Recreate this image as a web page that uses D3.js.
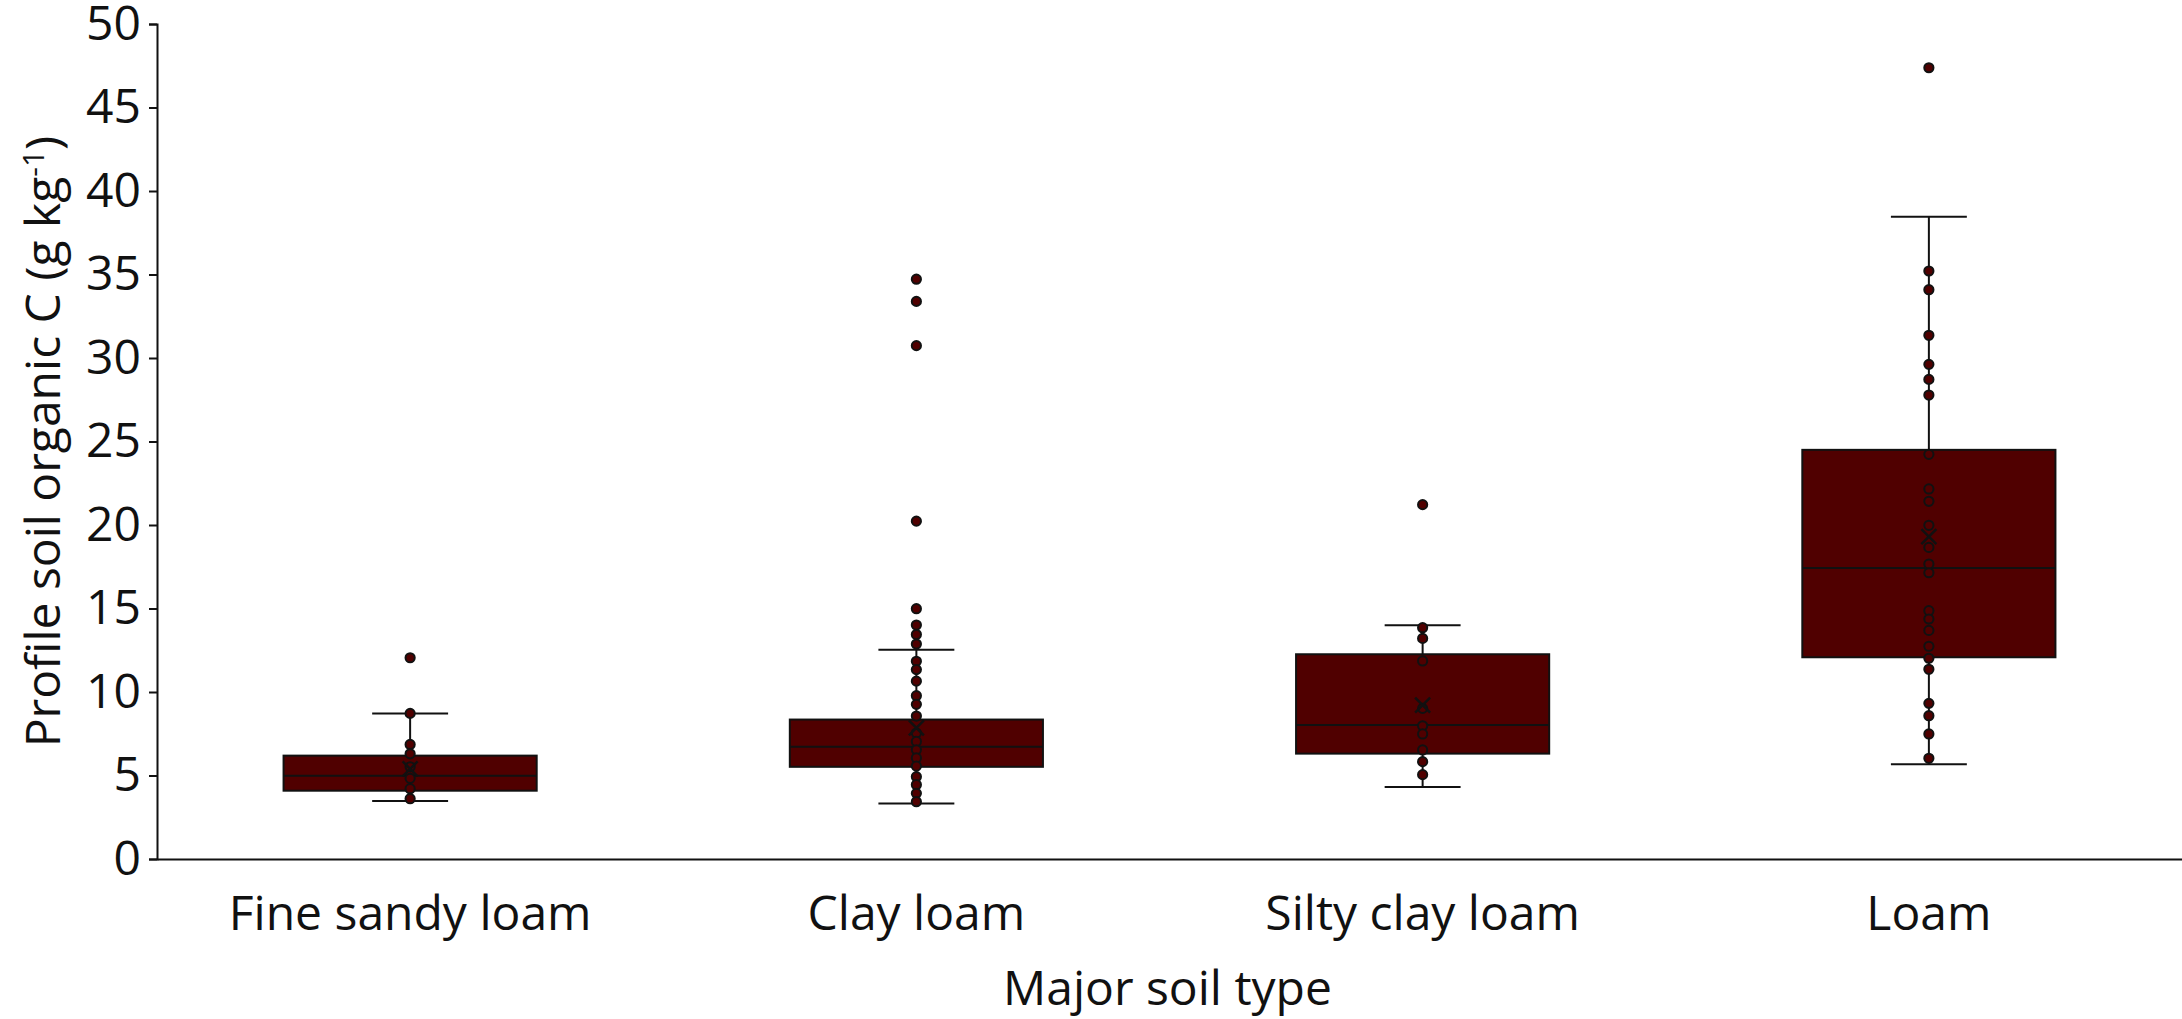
<!DOCTYPE html>
<html>
<head>
<meta charset="utf-8">
<script src="https://cdn.jsdelivr.net/npm/d3@7"></script>
<style>
  body { margin: 0; background: #fff; }
  text { font-family: 'Open Sans', sans-serif; fill: #111; }
</style>
</head>
<body>
<div class="canvas"></div>
<script>
// box plot stats
const categories = ['Fine sandy loam', 'Clay loam', 'Silty clay loam', 'Loam'];
const whiskerLow = [3.47, 3.33, 4.31, 5.67];
const q1 = [4.09, 5.52, 6.31, 12.08];
const medians = [4.98, 6.72, 8.02, 17.43];
const q3 = [6.19, 8.35, 12.26, 24.5];
const whiskerHigh = [8.72, 12.53, 13.99, 38.46];
const means = [5.4, 7.85, 9.22, 19.3];

// individual profiles
const fineSandyLoam = [12.05, 8.72, 6.86, 6.30, 5.52, 4.83, 4.21, 3.61];
const clayLoam = [34.72, 33.39, 30.74, 20.23, 14.99, 14.01, 13.44, 12.87, 11.84, 11.34,
  10.65, 9.78, 9.26, 8.56, 7.54, 7.04, 6.54, 6.05, 5.56, 4.93, 4.45, 3.93, 3.43];
const siltyClayLoam = [21.22, 13.85, 13.21, 11.86, 9.02, 7.98, 7.49, 6.53, 5.83, 5.05];
const loam = [47.38, 35.21, 34.09, 31.36, 29.62, 28.72, 27.78, 24.23, 22.16, 21.42, 19.98,
  18.66, 17.66, 17.14, 14.87, 14.37, 13.69, 12.74, 12.02, 11.36, 9.32, 8.58, 7.49, 6.03];
const points = [fineSandyLoam, clayLoam, siltyClayLoam, loam];

const yTicks = [0, 5, 10, 15, 20, 25, 30, 35, 40, 45, 50];

const width = 2182, height = 1019;
const margin = { top: 24, right: 0, bottom: 160, left: 157 };
const boxFill = '#500000';
const fontSize = '48px';

const svg = d3.select('.canvas').append('svg')
    .attr('width', width)
    .attr('height', height);

const x = d3.scaleBand()
    .domain(categories)
    .range([margin.left, width - margin.right])
    .paddingInner(0)
    .paddingOuter(0);

const y = d3.scaleLinear()
    .domain([0, 50])
    .range([height - margin.bottom, margin.top]);

const boxW = x.bandwidth() * 0.5;
const capW = boxW * 0.3;

const stats = categories.map((c, i) => ({
  cat: c, lo: whiskerLow[i], q1: q1[i], med: medians[i], q3: q3[i],
  hi: whiskerHigh[i], mean: means[i], pts: points[i]
}));

const g = svg.selectAll('g.cat')
  .data(stats)
  .enter().append('g')
    .attr('class', 'cat')
    .attr('transform', d => `translate(${x(d.cat) + x.bandwidth() / 2},0)`);

// whiskers
g.append('line')
    .attr('x1', 0).attr('x2', 0)
    .attr('y1', d => y(d.hi)).attr('y2', d => y(d.lo))
    .attr('stroke', '#111').attr('stroke-width', 2);
g.append('line')
    .attr('x1', -capW / 2).attr('x2', capW / 2)
    .attr('y1', d => y(d.hi)).attr('y2', d => y(d.hi))
    .attr('stroke', '#111').attr('stroke-width', 2);
g.append('line')
    .attr('x1', -capW / 2).attr('x2', capW / 2)
    .attr('y1', d => y(d.lo)).attr('y2', d => y(d.lo))
    .attr('stroke', '#111').attr('stroke-width', 2);

// box
g.append('rect')
    .attr('x', -boxW / 2)
    .attr('width', boxW)
    .attr('y', d => y(d.q3))
    .attr('height', d => y(d.q1) - y(d.q3))
    .attr('fill', boxFill)
    .attr('stroke', '#111')
    .attr('stroke-width', 2);

// median
g.append('line')
    .attr('x1', -boxW / 2).attr('x2', boxW / 2)
    .attr('y1', d => y(d.med)).attr('y2', d => y(d.med))
    .attr('stroke', '#111').attr('stroke-width', 2);

// points
g.selectAll('circle')
  .data(d => d.pts)
  .enter().append('circle')
    .attr('cx', 0)
    .attr('cy', v => y(v))
    .attr('r', 4.6)
    .attr('fill', boxFill)
    .attr('stroke', '#111')
    .attr('stroke-width', 2);

// mean marker
const xs = 7.5;
g.append('path')
    .attr('d', d => `M${-xs},${y(d.mean) - xs}L${xs},${y(d.mean) + xs}M${-xs},${y(d.mean) + xs}L${xs},${y(d.mean) - xs}`)
    .attr('stroke', '#111')
    .attr('stroke-width', 2.5)
    .attr('fill', 'none');

// axes
const yAxis = svg.append('g')
    .attr('transform', `translate(${margin.left},0)`)
    .call(d3.axisLeft(y).tickValues(yTicks).tickSize(8).tickPadding(8));
yAxis.select('.domain').attr('stroke', '#111').attr('stroke-width', 2);
yAxis.selectAll('.tick line').attr('stroke', '#111').attr('stroke-width', 2);
yAxis.selectAll('.tick text')
    .style('font-family', "'Open Sans', sans-serif")
    .style('font-size', fontSize)
    .attr('fill', '#111');

const xAxis = svg.append('g')
    .attr('transform', `translate(0,${height - margin.bottom})`)
    .call(d3.axisBottom(x).tickSize(0).tickPadding(37));
xAxis.select('.domain').attr('stroke', '#111').attr('stroke-width', 2);
xAxis.selectAll('.tick text')
    .style('font-family', "'Open Sans', sans-serif")
    .style('font-size', fontSize)
    .attr('fill', '#111');

// titles
svg.append('text')
    .attr('x', (margin.left + width) / 2 - 2)
    .attr('y', 1005)
    .attr('text-anchor', 'middle')
    .style('font-size', fontSize)
    .text('Major soil type');

const yt = svg.append('text')
    .attr('transform', `translate(60,${(margin.top + height - margin.bottom) / 2}) rotate(-90)`)
    .attr('text-anchor', 'middle')
    .style('font-size', fontSize);
yt.append('tspan').text('Profile soil organic C (g kg');
yt.append('tspan').attr('dy', -16).style('font-size', '30px').text('-1');
yt.append('tspan').attr('dy', 16).text(')');
</script>
</body>
</html>
